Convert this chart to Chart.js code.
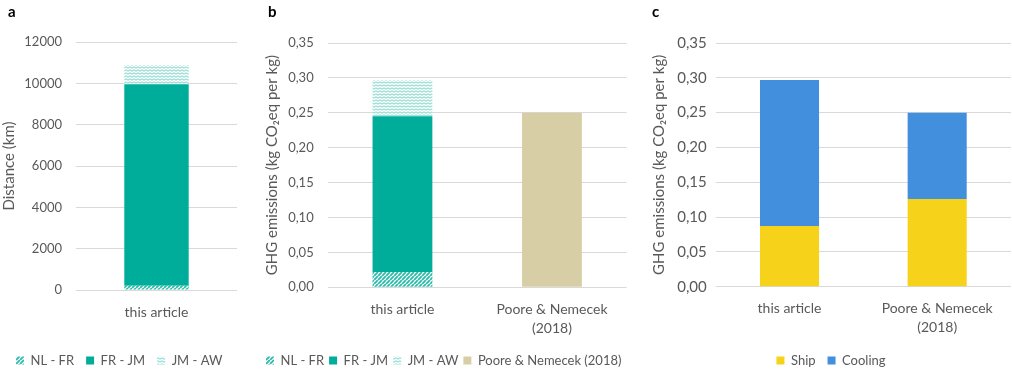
<!DOCTYPE html>
<html>
<head>
<meta charset="utf-8">
<script src="https://cdn.jsdelivr.net/npm/chart.js@4/dist/chart.umd.min.js"></script>
<style>
  html, body { margin: 0; padding: 0; background: #fff; overflow: hidden; }
  #wrap { position: relative; width: 1012px; height: 370px; overflow: hidden; }
  .panel { position: absolute; top: 0; height: 380px; }
  .tag { position: absolute; top: 4px; font: bold 15px Lato, sans-serif; line-height: 15px; color: #000; }
</style>
</head>
<body>
<div id="wrap">
  <div class="panel" style="left:0;width:250px"><canvas id="chartA"></canvas></div>
  <div class="panel" style="left:250px;width:400px"><canvas id="chartB"></canvas></div>
  <div class="panel" style="left:650px;width:362px"><canvas id="chartC"></canvas></div>
  <div class="tag" style="left:8px">a</div>
  <div class="tag" style="left:268px">b</div>
  <div class="tag" style="left:652px">c</div>
</div>
<script>
// ---- data ----
const distCategories = ['this article'];
const distNLFR = [200];     // km
const distFRJM = [9750];
const distJMAW = [940];

const ghgCategories = ['this article', ['Poore & Nemecek', '(2018)']];
const ghgNLFR = [0.022, null];   // kg CO2eq per kg
const ghgFRJM = [0.223, null];
const ghgJMAW = [0.052, null];
const ghgPoore = [null, 0.25];

const splitCategories = ['this article', ['Poore & Nemecek', '(2018)']];
const splitShip = [0.087, 0.126];
const splitCooling = [0.210, 0.124];

const distTicks = { max: 12000, step: 2000 };
const ghgTicks = { max: 0.35, step: 0.05 };

// ---- styling ----
const FONT = 'Lato';
const TEXT = '#595959';
const GRID = '#d9d9d9';
const TEAL = '#00ad9a';
const TAN = '#d8cea6';
const YELLOW = '#f6d21b';
const BLUE = '#428fdd';

function diagPattern() {
  const c = document.createElement('canvas');
  c.width = 4; c.height = 4;
  const g = c.getContext('2d');
  g.fillStyle = '#ffffff';
  g.fillRect(0, 0, 4, 4);
  g.strokeStyle = '#2fbcab';
  g.lineWidth = 1.9;
  g.beginPath();
  for (let k = -4; k <= 8; k += 4) { g.moveTo(k, 4); g.lineTo(k + 4, 0); }
  g.stroke();
  return g.createPattern(c, 'repeat');
}
function zigzagPattern() {
  const c = document.createElement('canvas');
  c.width = 4; c.height = 3;
  const g = c.getContext('2d');
  g.fillStyle = '#ffffff';
  g.fillRect(0, 0, 4, 3);
  g.strokeStyle = '#8adbd1';
  g.lineWidth = 1.1;
  g.beginPath();
  g.moveTo(-2, 0.8); g.lineTo(0, 2.2); g.lineTo(2, 0.8); g.lineTo(4, 2.2); g.lineTo(6, 0.8);
  g.stroke();
  return g.createPattern(c, 'repeat');
}
const NLFR_FILL = diagPattern();
const JMAW_FILL = zigzagPattern();

const commaFmt = v => Number(v).toFixed(2).replace('.', ',');

function fixedWidth(w) { return scale => { scale.width = w; }; }
function fixedHeight(h) { return scale => { scale.height = h; }; }

function buildOptions(cfg) {
  const scales = {
    x: {
      stacked: true,
      grid: { display: false },
      border: { display: false },
      afterFit: fixedHeight(cfg.xHeight),
      ticks: {
        color: TEXT, padding: 4.5, maxRotation: 0, autoSkip: false,
        font: { family: FONT, size: 14, lineHeight: 1.36 }
      }
    },
    y: {
      stacked: true,
      min: 0,
      max: cfg.yMax,
      afterFit: fixedWidth(cfg.yWidth),
      grid: { color: GRID, lineWidth: 1, drawTicks: false },
      border: { display: false },
      ticks: {
        stepSize: cfg.yStep,
        color: TEXT,
        padding: cfg.tickPad,
        font: { family: FONT, size: cfg.tickSize },
        callback: cfg.fmt
      },
      title: {
        display: true,
        text: cfg.yTitle,
        color: TEXT,
        padding: { top: cfg.titlePad, bottom: 0 },
        font: { family: FONT, size: 15 }
      }
    }
  };
  if (cfg.rightGap) {
    // empty margin on the right so the legend row keeps its full width
    scales.gap = {
      position: 'right', display: true,
      grid: { display: false }, border: { display: false },
      ticks: { display: false },
      afterFit: fixedWidth(cfg.rightGap)
    };
  }
  return {
    responsive: false,
    animation: false,
    devicePixelRatio: 1,
    layout: { padding: cfg.padding },
    datasets: { bar: { categoryPercentage: 1, barPercentage: 0.4, borderWidth: 0 } },
    plugins: {
      tooltip: { enabled: false },
      legend: {
        position: 'bottom',
        align: cfg.legendAlign,
        labels: {
          boxWidth: 8, boxHeight: 8,
          padding: cfg.legendPad,
          color: TEXT,
          font: { family: FONT, size: 13 }
        }
      }
    },
    scales
  };
}

function makeChart(id, w, labels, datasets, cfg) {
  const cv = document.getElementById(id);
  cv.width = w; cv.height = 380;
  cv.style.width = w + 'px'; cv.style.height = '380px';
  return new Chart(cv, { type: 'bar', data: { labels, datasets }, options: buildOptions(cfg) });
}

// a: transport distance per leg
makeChart('chartA', 250, distCategories, [
  { label: 'NL - FR', data: distNLFR, backgroundColor: NLFR_FILL },
  { label: 'FR - JM', data: distFRJM, backgroundColor: TEAL },
  { label: 'JM - AW', data: distJMAW, backgroundColor: JMAW_FILL }
], {
  padding: { left: 4, right: 13, top: 42, bottom: 3 },
  yWidth: 72, xHeight: 52, yMax: distTicks.max, yStep: distTicks.step,
  tickPad: 14, tickSize: 13, titlePad: -4, legendPad: 12, legendAlign: 'start',
  yTitle: 'Distance (km)', fmt: v => String(v)
});

// b: emissions per leg vs. literature
makeChart('chartB', 400, ghgCategories, [
  { label: 'NL - FR', data: ghgNLFR, backgroundColor: NLFR_FILL },
  { label: 'FR - JM', data: ghgFRJM, backgroundColor: TEAL },
  { label: 'JM - AW', data: ghgJMAW, backgroundColor: JMAW_FILL },
  { label: 'Poore & Nemecek (2018)', data: ghgPoore, backgroundColor: TAN }
], {
  padding: { left: 11, right: 0, top: 43, bottom: 3 },
  yWidth: 66.7, xHeight: 61.7, yMax: ghgTicks.max, yStep: ghgTicks.step,
  tickPad: 14, tickSize: 13, titlePad: 2.5, legendPad: 5, legendAlign: 'start', rightGap: 23.3,
  yTitle: 'GHG emissions (kg CO\u2082eq per kg)', fmt: commaFmt
});

// c: ship vs. cooling share
makeChart('chartC', 362, splitCategories, [
  { label: 'Ship', data: splitShip, backgroundColor: YELLOW },
  { label: 'Cooling', data: splitCooling, backgroundColor: BLUE }
], {
  padding: { left: 1, right: 1, top: 43, bottom: 3 },
  yWidth: 64.7, xHeight: 55.3, yMax: ghgTicks.max, yStep: ghgTicks.step,
  tickPad: 9, tickSize: 15, titlePad: -0.5, legendPad: 12, legendAlign: 'center',
  yTitle: 'GHG emissions (kg CO\u2082eq per kg)', fmt: commaFmt
});
</script>
</body>
</html>
